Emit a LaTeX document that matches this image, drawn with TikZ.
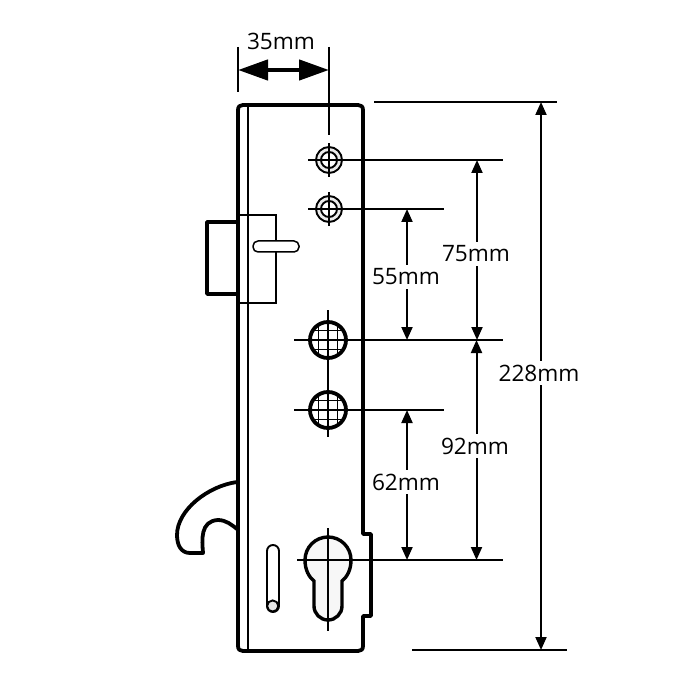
\documentclass[tikz,border=0pt]{standalone}
\usepackage{fontspec}
\setmainfont{Open Sans}
\usetikzlibrary{arrows.meta}
\tikzset{
 thick line/.style={line width=3.8pt,line join=round},
 med line/.style={line width=1.9pt},
 thin line/.style={line width=1.5pt},
 dimarrow/.style={line width=2pt,{Triangle[length=13pt,width=11pt]}-{Triangle[length=13pt,width=11pt]}},
 dimlabel/.style={font=\fontsize{22.6}{26}\selectfont,inner xsep=0pt,inner ysep=4pt,fill=white},
}
\begin{document}
\begin{tikzpicture}[x=1pt,y=-1pt]
\useasboundingbox (0,0) rectangle (700,700);
\fill[white] (0,0) rectangle (700,700);
% hook
\draw[thick line,fill=white] (237,482) .. controls (208,486) and (177,510) .. (177,535) .. controls (177,545) and (181,553) .. (190,553) -- (203,553) .. controls (202,540) and (200,521) .. (218,520) .. controls (226,520) and (232,525) .. (237,529);
% bolt
\draw[thick line,fill=white] (238,222) -- (207,222) -- (207,294) -- (238,294);
% body
\draw[thick line] (238,110) .. controls (238,106.5) and (240,105) .. (243,105) -- (358,105) .. controls (361,105) and (363,106.5) .. (363,110) -- (363,534) -- (371,534) -- (371,616) -- (363,616) -- (363,646) .. controls (363,649.5) and (361,651) .. (358,651) -- (243,651) .. controls (240,651) and (238,649.5) .. (238,646) -- cycle;
\draw[thin line] (248,105) -- (248,651);
% thin box and slot
\draw[thin line] (238,215) -- (276,215) -- (276,303) -- (238,303);
\draw[thin line,fill=white,rounded corners=5pt] (253,241) rectangle (299,252);
% extension lines
\coordinate (h1) at (329,160); \coordinate (h2) at (329,209);
\coordinate (h3) at (328,340); \coordinate (h4) at (328,410);
\coordinate (c) at (328,560);
\draw[thin line] (329,47) -- (329,135);
\draw[thin line] (238,47) -- (238,92);
\draw[thin line] (374,102) -- (557,102);
\draw[thin line] (412,650) -- (567,650);
\draw[thin line] (308,160) -- (503,160);
\draw[thin line] (308,209) -- (444,209);
\draw[thin line] (294,340) -- (503,340);
\draw[thin line] (294,410) -- (444,410);
\draw[thin line] (297,560) -- (503,560);
% small screw holes
\foreach \n in {h1,h2}{
 \draw[med line,fill=black!8] (\n) circle (13);
 \draw[med line,fill=white] (\n) circle (8);
 \draw[thin line] ([yshift=-17]\n) -- ([yshift=17]\n);
 \draw[thin line] ([xshift=-21]\n) -- ([xshift=13]\n);
}
% big holes
\foreach \n in {h3,h4}{
 \begin{scope}
 \clip (\n) circle (18);
 \fill[white] (\n) circle (18);
 \foreach \d in {-9.5,0,9.5}{
  \draw[thin line] ([xshift=\d,yshift=-18]\n) -- ([xshift=\d,yshift=18]\n);
  \draw[thin line] ([yshift=\d,xshift=-18]\n) -- ([yshift=\d,xshift=18]\n);
 }
 \end{scope}
 \draw[line width=3.8pt] (\n) circle (18);
}
\draw[thin line] (328,310) -- (328,437);
% cylinder
\draw[line width=3.4pt,fill=black!3] (314,581) .. controls (309,577) and (305,570) .. (305,560) arc[start angle=180,end angle=360,radius=23] .. controls (351,570) and (347,577) .. (342,581) -- (342,606) arc[start angle=0,end angle=180,radius=14] -- cycle;
\draw[thin line] (328,528) -- (328,631);
\draw[thin line] (297,560) -- (375,560);
% small slot
\draw[med line,fill=white] (267,551) arc[start angle=180,end angle=360,radius=6] -- (279,606) arc[start angle=0,end angle=180,radius=6] -- cycle;
\draw[med line,fill=black!10] (272.7,606) circle (5.6);
% dimensions
\coordinate (a1) at (238,70); \coordinate (a2) at (329,70);
\draw[line width=4.5pt,{Triangle[length=30pt,width=20pt]}-{Triangle[length=30pt,width=20pt]}] (a1) -- (a2);
\node[dimlabel] (t35) at (281,41) {35mm};
\draw[dimarrow] (541,102) -- (541,650);
\node[dimlabel] (t228) at (539,373) {228mm};
\draw[dimarrow] (477,160) -- (477,340);
\node[dimlabel] (t75) at (476,254) {75mm};
\draw[dimarrow] (476.5,340) -- (476.5,560);
\node[dimlabel] (t92) at (475,446) {92mm};
\draw[dimarrow] (407,209) -- (407,340);
\node[dimlabel] (t55) at (406,277) {55mm};
\draw[dimarrow] (407,410) -- (407,560);
\node[dimlabel] (t62) at (406,482) {62mm};
\end{tikzpicture}
\end{document}
